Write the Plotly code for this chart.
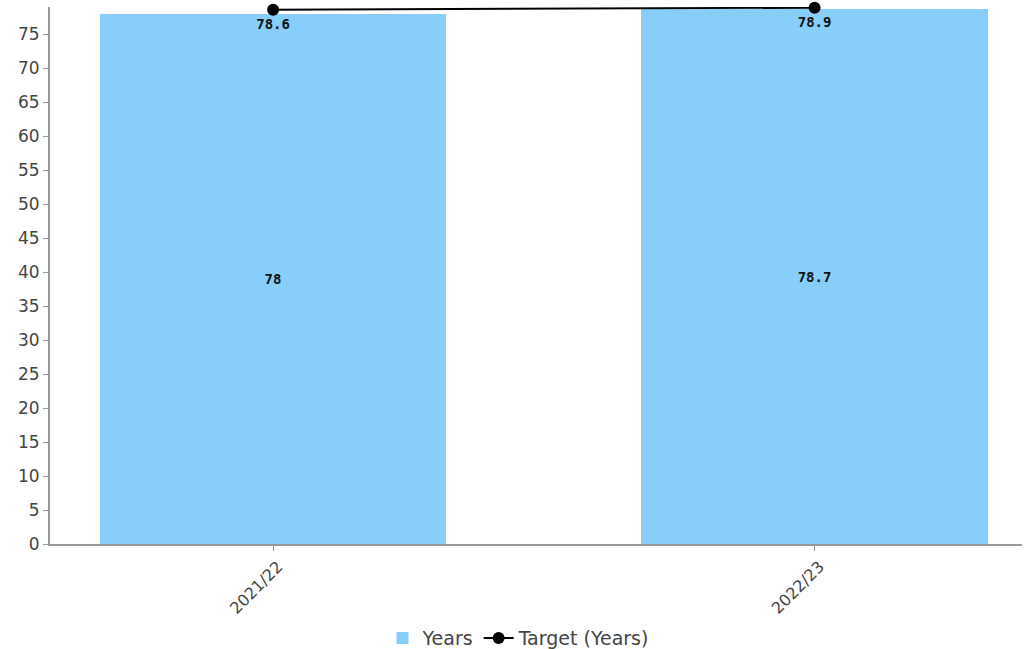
import plotly.graph_objects as go

categories = ["2021/22", "2022/23"]
years_values = [78, 78.7]
target_values = [78.6, 78.9]
y_ticks = list(range(0, 80, 5))

fig = go.Figure()
fig.add_trace(go.Bar(
    x=[0, 1], y=years_values, name="Years",
    marker=dict(color="#87CEFA", line=dict(width=0)),
    width=0.64,
    text=[str(v) for v in years_values], textposition="inside",
    insidetextanchor="middle",
    textfont=dict(family="DejaVu Sans Mono", size=14, color="#111111", weight="bold"),
))
fig.add_trace(go.Scatter(
    x=[0, 1], y=target_values, name="Target (Years)",
    mode="lines+markers+text",
    line=dict(color="#000000", width=2),
    marker=dict(color="#000000", size=12),
    text=[str(v) for v in target_values], textposition="bottom center",
    textfont=dict(family="DejaVu Sans Mono", size=14, color="#111111", weight="bold"),
    cliponaxis=False,
))
fig.update_layout(
    width=1024, height=649,
    margin=dict(l=50, r=2, t=7, b=105, autoexpand=False),
    plot_bgcolor="white", paper_bgcolor="white",
    font=dict(family="DejaVu Sans", size=15, color="#444444"),
    showlegend=True,
    legend=dict(orientation="h", x=0.482, xanchor="center", y=-0.14, yanchor="top",
                font=dict(size=19, color="#444444"), itemwidth=30),
    bargap=0,
)
fig.update_xaxes(
    tickmode="array", tickvals=[0, 1], ticktext=categories,
    range=[-0.412, 1.383], tickangle=-45, automargin=False,
    showline=True, linecolor="#999999", linewidth=2,
    ticks="outside", ticklen=5, tickcolor="#999999",
    showgrid=False, zeroline=False, ticklabelshift=5,
    tickfont=dict(size=16, color="#444444"),
)
fig.update_yaxes(
    range=[0, 79], tickvals=y_ticks, automargin=False,
    showline=True, linecolor="#999999", linewidth=2,
    ticks="outside", ticklen=5, tickcolor="#999999",
    showgrid=False, zeroline=False,
    tickfont=dict(size=17, color="#444444"),
)
fig.write_html("out.html", config={"displayModeBar": False},
               post_script="document.body.style.margin='0';document.body.style.overflow='hidden';")
